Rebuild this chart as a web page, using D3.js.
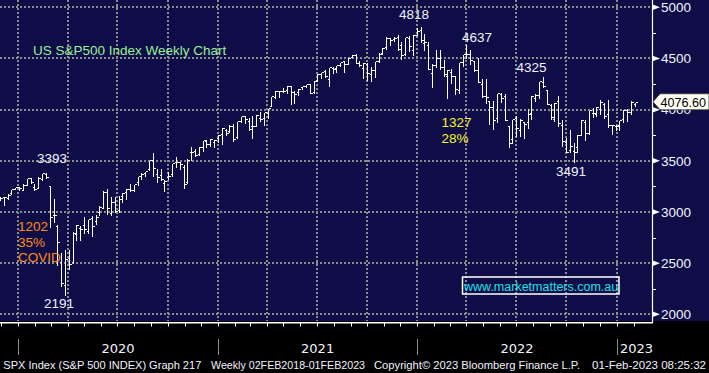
<!DOCTYPE html>
<html><head><meta charset="utf-8">
<script src="https://cdn.jsdelivr.net/npm/d3@7/dist/d3.min.js"></script>
<style>html,body{margin:0;padding:0;background:#000;overflow:hidden}svg{display:block}</style>
</head><body><svg id="c" width="709" height="373"></svg>
<script>
// ---- DATA: weekly OHLC of the S&P 500 (weeks ending Friday, 29 Nov 2019 .. 3 Feb 2023)
const firstWeek = new Date(2019, 10, 29);
const lastWeek = new Date(2023, 1, 3);
const opens = [
3117,3143,3141,3183,3225,
3247,3218,3267,3334,3248,3236,3318,3370,3258,2974,2864,2509,2291,2555,2514,2782,2845,2869,2815,2938,2914,3004,3038,3199,2994,3094,3018,3155,3191,3224,3219,3289,3356,3380,3419,3508,3369,3364,3285,3338,3367,3493,3493,3441,3296,3583,3600,3567,3634,3698,3666,3684,3723,
3764,3803,3788,3841,3732,3892,3939,3886,3842,3844,3914,3916,3969,4034,4124,4180,4185,4192,4228,4170,4168,4217,4232,4248,4174,4285,4349,4373,4296,4409,4406,4438,4474,4450,4513,4535,4451,4402,4449,4348,4385,4471,4553,4610,4701,4689,4712,4634,4545,4703,4578,4733,
4778,4655,4632,4357,4432,4501,4413,4333,4364,4327,4188,4462,4541,4547,4474,4385,4255,4130,4081,4026,3920,4151,4134,3838,3715,3920,3800,3880,3883,3966,4113,4142,4270,4190,4042,3910,4083,3845,3686,3610,3593,3638,3755,3882,3768,3967,3956,4005,4053,3954,3853,3843,
3853,3911,3999,3979,4053];
const highs = [
3154,3150,3183,3226,3248,
3258,3282,3330,3337,3285,3347,3385,3393,3260,3137,2882,2613,2637,2641,2818,2880,2871,2965,2934,2968,2980,3068,3211,3233,3155,3155,3165,3198,3235,3280,3272,3352,3387,3399,3509,3588,3425,3428,3320,3398,3482,3550,3502,3464,3529,3646,3629,3644,3699,3712,3726,3712,3760,
3827,3823,3861,3870,3887,3937,3950,3928,3944,3960,3983,3981,4020,4130,4191,4195,4219,4238,4237,4188,4213,4234,4249,4257,4286,4356,4372,4394,4415,4429,4441,4469,4480,4513,4545,4549,4486,4466,4465,4429,4475,4560,4608,4718,4708,4717,4743,4672,4713,4731,4740,4808,
4819,4749,4669,4453,4596,4589,4490,4393,4402,4327,4465,4546,4637,4593,4487,4513,4308,4307,4099,4090,4158,4168,4164,3838,3913,3951,3918,3880,4013,4140,4167,4281,4325,4203,4062,4077,4140,3907,3733,3807,3685,3762,3906,3912,4001,4028,4034,4100,4072,4101,3863,3859,
3896,4003,4015,4094,4078];
const lows = [
3114,3070,3124,3174,3223,
3215,3214,3263,3281,3214,3233,3315,3328,2855,2901,2478,2280,2192,2447,2499,2725,2727,2798,2797,2766,2878,2969,3039,2984,2966,3004,2999,3101,3127,3201,3205,3260,3324,3354,3406,3350,3293,3314,3209,3324,3354,3441,3419,3234,3279,3511,3547,3553,3594,3633,3648,3636,3687,
3663,3749,3784,3694,3725,3884,3865,3805,3723,3841,3885,3853,3917,4034,4114,4119,4176,4158,4057,4062,4145,4197,4217,4165,4164,4279,4310,4322,4233,4360,4368,4424,4367,4443,4513,4457,4427,4305,4289,4278,4323,4465,4547,4595,4630,4672,4585,4495,4531,4572,4531,4733,
4662,4582,4395,4222,4414,4401,4328,4115,4258,4157,4161,4424,4506,4450,4381,4267,4124,4063,3859,3811,3875,4073,3900,3637,3675,3739,3743,3722,3818,3912,4080,4112,4218,4057,3907,3888,3838,3647,3585,3585,3492,3590,3748,3699,3764,3928,3940,3955,3918,3828,3765,3797,
3802,3878,3885,3961,4031];
const closes = [
3141,3146,3169,3221,3240,
3235,3265,3330,3295,3226,3328,3380,3338,2954,2972,2711,2305,2541,2489,2790,2875,2837,2831,2930,2864,2955,3044,3194,3041,3098,3009,3130,3185,3225,3216,3271,3351,3373,3397,3508,3427,3341,3319,3298,3348,3477,3484,3465,3270,3510,3585,3558,3638,3699,3663,3709,3703,3756,
3825,3768,3841,3714,3887,3934,3907,3811,3842,3943,3913,3975,4020,4129,4185,4180,4181,4233,4174,4156,4204,4230,4247,4166,4281,4352,4370,4327,4412,4395,4437,4468,4442,4509,4535,4458,4432,4455,4357,4391,4471,4545,4605,4697,4683,4698,4595,4538,4712,4620,4726,4766,
4677,4663,4398,4432,4500,4419,4349,4385,4329,4204,4463,4543,4546,4488,4392,4272,4132,4123,4024,3901,4158,4109,3901,3675,3912,3825,3899,3863,3962,4130,4145,4280,4228,4058,3924,4067,3873,3693,3586,3640,3583,3753,3901,3771,3993,3965,4026,4072,3934,3852,3845,3840,
3895,3999,3973,4071,4076.60];
const yTicks = [2000, 2500, 3000, 3500, 4000, 4500, 5000];
const yMinorTicks = [2250, 2750, 3250, 3750, 4250, 4750];
const yearLabels = ["2020", "2021", "2022", "2023"];
const lastPrice = 4076.60;
const footerParts = ["SPX Index (S&P 500 INDEX) Graph 217", "Weekly 02FEB2018-01FEB2023",
  "Copyright\u00A9 2023 Bloomberg Finance L.P.", "01-Feb-2023 08:25:32"];

// ---- LAYOUT
const W = 709, H = 373, plotBottom = 321, axisX = 652;
const svg = d3.select("#c");
const weeks = d3.timeFriday.range(firstWeek, d3.timeDay.offset(lastWeek, 1));
const data = weeks.map((d, i) => ({date: d, o: opens[i], h: highs[i], l: lows[i], c: closes[i]}));

const x = d3.scaleTime().domain([new Date(2020, 0, 1), new Date(2023, 0, 1)]).range([18, 616.7]);
const y = d3.scaleLinear().domain([2000, 5000]).range([314.3, 7.3]);

svg.append("rect").attr("x", 0).attr("y", 0).attr("width", W).attr("height", plotBottom).attr("fill", "#0f0d47");

// grid
const grid = svg.append("g").attr("stroke", "#8c8c8c").attr("stroke-width", 2).attr("stroke-dasharray", "2,2");
const quarters = d3.timeMonth.every(3).range(new Date(2020, 0, 1), new Date(2023, 0, 2));
grid.selectAll("line.v").data(quarters).join("line")
  .attr("x1", d => Math.round(x(d))).attr("x2", d => Math.round(x(d)))
  .attr("y1", 0).attr("y2", plotBottom);
grid.selectAll("line.h").data(yTicks).join("line")
  .attr("x1", 0).attr("x2", axisX)
  .attr("y1", d => Math.round(y(d))).attr("y2", d => Math.round(y(d)));

// OHLC bars
const bars = svg.append("g").attr("stroke", "#fff").attr("stroke-width", 1).attr("shape-rendering", "crispEdges");
const bx = d => Math.round(x(d.date)) + 0.5;
const py = v => Math.round(y(v)) + 0.5;
bars.selectAll("line.hl").data(data).join("line")
  .attr("x1", bx).attr("x2", bx).attr("y1", d => py(d.h)).attr("y2", d => py(d.l) + 0.5);
bars.selectAll("line.o").data(data).join("line")
  .attr("x1", d => bx(d) - 2).attr("x2", d => bx(d)).attr("y1", d => py(d.o)).attr("y2", d => py(d.o));
bars.selectAll("line.c").data(data).join("line")
  .attr("x1", d => bx(d)).attr("x2", d => bx(d) + 2.5).attr("y1", d => py(d.c)).attr("y2", d => py(d.c));

// right axis
svg.append("line").attr("x1", axisX + 0.5).attr("x2", axisX + 0.5).attr("y1", 0).attr("y2", 323)
  .attr("stroke", "#fff").attr("stroke-width", 1.2);
const ra = svg.append("g");
ra.selectAll("path.tri").data(yTicks).join("path")
  .attr("d", d => { const yy = y(d); return `M${axisX},${yy - 3} L${axisX + 8},${yy} L${axisX},${yy + 3} Z`; })
  .attr("fill", "#fff");
ra.selectAll("line.mn").data(yMinorTicks).join("line")
  .attr("x1", axisX).attr("x2", axisX + 4).attr("y1", d => Math.round(y(d)) + 0.5).attr("y2", d => Math.round(y(d)) + 0.5)
  .attr("stroke", "#fff");
ra.selectAll("text").data(yTicks).join("text")
  .attr("x", 661).attr("y", d => y(d) + 4.8).text(d => d)
  .attr("fill", "#f0f4ff").attr("font-family", "Liberation Sans, Arial, sans-serif").attr("font-size", 13.5);

// last price tag
const lp = y(lastPrice);
svg.append("path")
  .attr("d", `M653,${lp} L660,${lp - 8} L709,${lp - 8} L709,${lp + 8} L660,${lp + 8} Z`)
  .attr("fill", "#fffff4").attr("stroke", "#333").attr("stroke-width", 0.8);
svg.append("text").attr("x", 660.5).attr("y", lp + 4.8).text(lastPrice.toFixed(2))
  .attr("fill", "#000").attr("font-family", "Liberation Sans, Arial, sans-serif").attr("font-size", 12.6);

// bottom axis
svg.append("line").attr("x1", 0).attr("x2", axisX + 1).attr("y1", 322.8).attr("y2", 322.8)
  .attr("stroke", "#fff").attr("stroke-width", 1.6);
const months = d3.timeMonth.range(new Date(2019, 11, 1), new Date(2023, 2, 1));
svg.append("g").selectAll("line").data(months).join("line")
  .attr("x1", d => Math.round(x(d)) + 0.5).attr("x2", d => Math.round(x(d)) + 0.5)
  .attr("y1", 323).attr("y2", 326.5).attr("stroke", "#fff");
const yearStarts = yearLabels.map(s => new Date(+s, 0, 1));
svg.append("g").selectAll("line").data(yearStarts).join("line")
  .attr("x1", d => Math.round(x(d)) + 0.5).attr("x2", d => Math.round(x(d)) + 0.5)
  .attr("y1", 339).attr("y2", 355).attr("stroke", "#8a8a8a");
svg.append("g").selectAll("text").data(yearLabels).join("text")
  .attr("x", (d, i) => i < 3 ? (x(yearStarts[i]) + x(new Date(+d + 1, 0, 1))) / 2 : 636.5)
  .attr("y", 353).attr("text-anchor", "middle").text(d => d)
  .attr("fill", "#f4f4ff").attr("font-family", "DejaVu Sans, Verdana, sans-serif").attr("font-size", 13);

// footer
const footX = [[3.3, 198], [211, 154], [374, 206], [592, 114]];
svg.append("g").selectAll("text").data(footerParts).join("text")
  .attr("x", (d, i) => footX[i][0]).attr("y", 369.3).text(d => d)
  .attr("textLength", (d, i) => footX[i][1]).attr("lengthAdjust", "spacingAndGlyphs")
  .attr("fill", "#f2f2ff").attr("font-family", "Liberation Sans, Arial, sans-serif").attr("font-size", 11.5);

// annotations
const font = "Liberation Sans, Arial, sans-serif";
const ann = svg.append("g").attr("font-family", font).attr("font-size", 13.5);
const addT = (t, xx, yy, col) => ann.append("text").attr("x", xx).attr("y", yy).text(t).attr("fill", col);
addT("US S&P500 Index Weekly Chart", 33, 54.5, "#98ef98");
addT("3393", 37, 163, "#eef3ff");
addT("1202", 18, 230.5, "#ff8a1c");
addT("35%", 18, 246.5, "#ff8a1c");
addT("COVID", 18, 262, "#ff8a1c");
addT("2191", 44, 307.5, "#eef3ff");
addT("4818", 399, 19, "#eef3ff");
addT("4637", 462, 42, "#eef3ff");
addT("4325", 516.5, 71.5, "#eef3ff");
addT("1327", 441.5, 127, "#f4f428");
addT("28%", 441.5, 143, "#f4f428");
addT("3491", 556, 175.8, "#eef3ff");
svg.append("rect").attr("x", 462.5).attr("y", 277).attr("width", 156.5).attr("height", 17)
  .attr("fill", "none").attr("stroke", "#fff").attr("stroke-width", 1.5);
svg.append("text").attr("x", 464).attr("y", 290.5).text("www.marketmatters.com.au")
  .attr("fill", "#1fe0e6").attr("font-family", font).attr("font-size", 12.5);
</script></body></html>
